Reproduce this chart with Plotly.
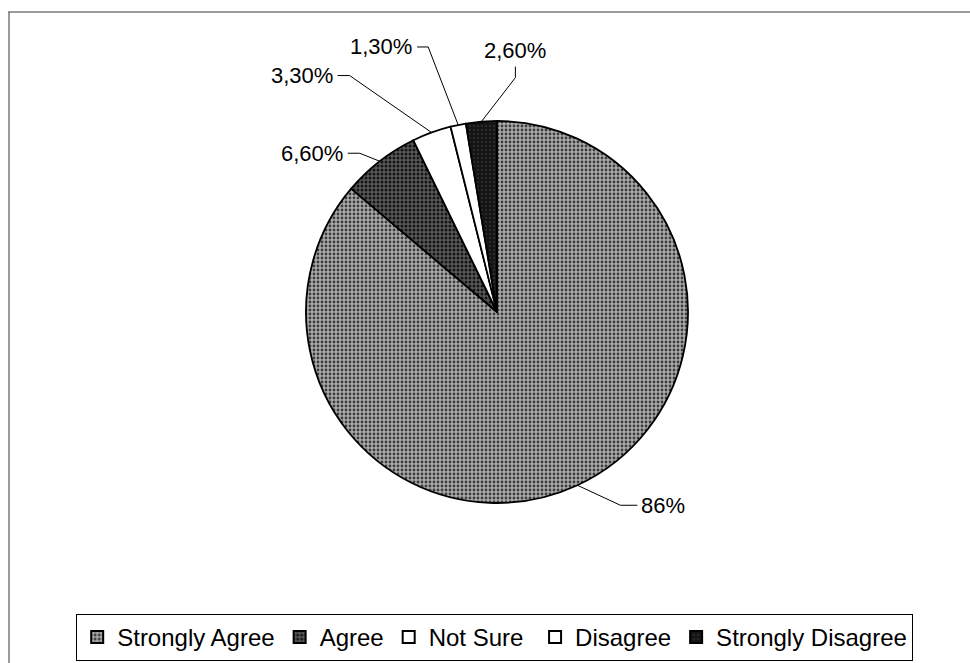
import math
import plotly.graph_objects as go

# ---- data ----
categories = ["Strongly Agree", "Agree", "Not Sure ", "Disagree", "Strongly Disagree"]
values = [86, 6.6, 3.3, 1.3, 2.6]
value_labels = ["86%", "6,60%", "3,30%", "1,30%", "2,60%"]

# ---- style ----
W, H = 970, 663
FONT = "Liberation Sans, Arial, sans-serif"
colors_bg = ["#ababab", "#5a5a5a", "#ffffff", "#ffffff", "#141414"]
colors_fg = ["#3c3c3c", "#141414", "#ffffff", "#ffffff", "#4a4a4a"]
solidity = [0.4, 0.45, 0.0, 0.0, 0.12]

# pie geometry in pixels (layout)
cx, cy, r = 497, 312, 191
dom_x = [(cx - r) / W, (cx + r) / W]
dom_y = [1 - (cy + r) / H, 1 - (cy - r) / H]

fig = go.Figure(go.Pie(
    labels=categories,
    values=values,
    sort=False,
    direction="clockwise",
    rotation=0,
    textinfo="none",
    hoverinfo="label+percent",
    marker=dict(
        colors=colors_bg,
        line=dict(color="#000000", width=1.8),
        pattern=dict(shape=[".", ".", "", "", "."], bgcolor=colors_bg,
                     fgcolor=colors_fg, size=4, solidity=solidity),
    ),
    domain=dict(x=dom_x, y=dom_y),
))

# label leader geometry: elbow offset from rim point, stub length, text side
elbow_offsets = [(43, 20), (-20, -8), (-82, -57), (-30, -78), (34, -44)]
stubs = [(17, 0), (-12, 0), (-12, 0), (-11, 0), (0, -11)]

def px(x):
    return x / W

def py(y):
    return 1 - y / H

total = sum(values)
cum = 0.0
shapes = []
annotations = []
for i, v in enumerate(values):
    theta = 2 * math.pi * (cum + v / 2) / total
    cum += v
    rx = cx + r * math.sin(theta)
    ry = cy - r * math.cos(theta)
    ex, ey = rx + elbow_offsets[i][0], ry + elbow_offsets[i][1]
    sx, sy = ex + stubs[i][0], ey + stubs[i][1]
    shapes.append(dict(type="path", xref="paper", yref="paper",
                       path=f"M {px(rx)},{py(ry)} L {px(ex)},{py(ey)} L {px(sx)},{py(sy)}",
                       line=dict(color="#000000", width=1)))
    if stubs[i][1] != 0:
        xa, ya, xanc, yanc = sx, sy - 2, "center", "bottom"
    elif stubs[i][0] > 0:
        xa, ya, xanc, yanc = sx + 2, sy, "left", "middle"
    else:
        xa, ya, xanc, yanc = sx - 3, sy, "right", "middle"
    annotations.append(dict(x=px(xa), y=py(ya), xref="paper", yref="paper",
                            text=value_labels[i], showarrow=False,
                            xanchor=xanc, yanchor=yanc,
                            font=dict(family=FONT, size=22, color="#000000")))

# outer frame (top and left edges)
shapes.append(dict(type="line", xref="paper", yref="paper",
                   x0=px(8), y0=py(12), x1=1, y1=py(12),
                   line=dict(color="#7a7a7a", width=1.5)))
shapes.append(dict(type="line", xref="paper", yref="paper",
                   x0=px(9), y0=py(12), x1=px(9), y1=0,
                   line=dict(color="#7a7a7a", width=1.5)))

fig.update_layout(
    width=W, height=H,
    margin=dict(l=0, r=0, t=0, b=0),
    paper_bgcolor="#ffffff",
    plot_bgcolor="#ffffff",
    showlegend=True,
    legend=dict(
        orientation="h",
        x=0.51, xanchor="center",
        y=py(661), yanchor="bottom",
        bordercolor="#000000", borderwidth=1,
        font=dict(family=FONT, size=24, color="#000000"),
        itemsizing="constant",
        traceorder="normal",
    ),
    shapes=shapes,
    annotations=annotations,
)

fig.write_html("out.html")
